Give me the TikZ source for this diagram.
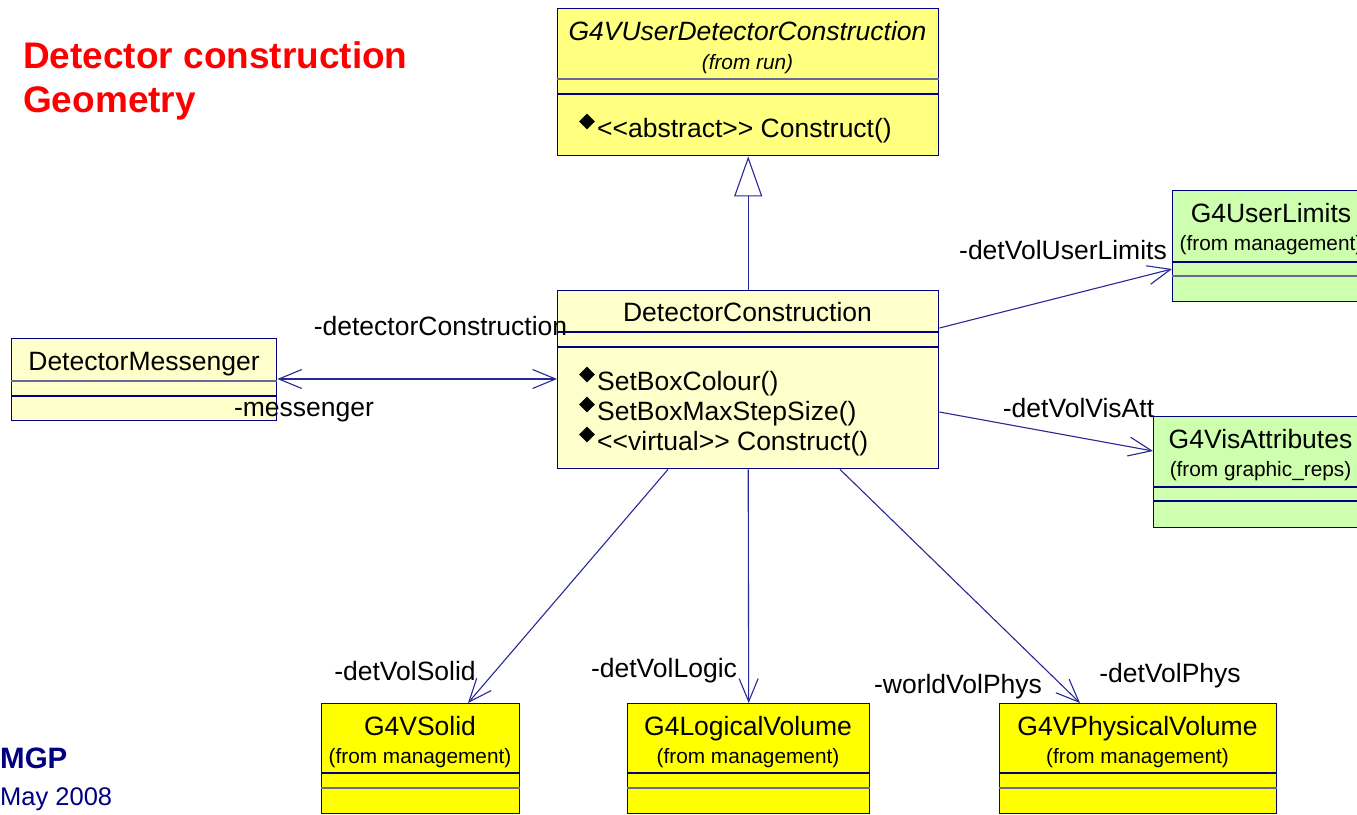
\documentclass[tikz,border=0pt]{standalone}
\usepackage{fontspec}
\newfontfamily\arial{Liberation Sans}
\usetikzlibrary{arrows.meta,shapes.geometric}
\definecolor{navy}{RGB}{0,0,128}
\definecolor{linec}{RGB}{40,40,150}
\definecolor{divgray}{RGB}{105,105,150}
\definecolor{ylight}{RGB}{255,255,204}
\definecolor{ymid}{RGB}{255,255,128}
\definecolor{ysat}{RGB}{255,255,0}
\definecolor{gfill}{RGB}{206,255,174}
\definecolor{titlered}{RGB}{255,0,0}
\newcommand\classdiv[5]{%
  \draw[draw=#3,divline] ([yshift=-#2pt]#1.north west) -- ([yshift=-#2pt]#1.north east);
  \draw[draw=#5,divline] ([yshift=-#4pt]#1.north west) -- ([yshift=-#4pt]#1.north east);}
\begin{document}
\begin{tikzpicture}[x=1pt,y=-1pt,
  cls/.style={draw=navy, line width=1.4pt, inner sep=0, anchor=north west},
  divline/.style={line width=1.2pt},
  lbl/.style={inner sep=0, anchor=base, font=\arial\fontsize{26.5}{30}\selectfont},
  smalllbl/.style={inner sep=0, anchor=base, font=\arial\fontsize{20.8}{24}\selectfont},
  meth/.style={lbl, anchor=base west},
  opmark/.style={diamond, fill=black, inner sep=0, minimum size=16pt},
  assoc/.style={draw=linec, line width=1.1pt, line join=miter, -{Straight Barb[length=23pt,width=19pt]}},
  biassoc/.style={draw=linec, line width=1.1pt, line join=miter, {Straight Barb[length=23pt,width=19pt]}-{Straight Barb[length=23pt,width=19pt]}},
  inherit/.style={draw=linec, line width=1.1pt, -{Triangle[open, length=40pt, width=28pt]}}
]
\useasboundingbox (0,0) rectangle (1357,814);
\clip (0,0) rectangle (1357,814);
\fill[white] (0,0) rectangle (1357,814);

% title
\node[inner sep=0, anchor=base west, text=titlered, font=\arial\bfseries\fontsize{37}{44}\selectfont] (t1) at (23,68) {Detector construction};
\node[inner sep=0, anchor=base west, text=titlered, font=\arial\bfseries\fontsize{37}{44}\selectfont] (t2) at (23,112) {Geometry};
\node[inner sep=0, anchor=base west, text=navy, font=\arial\bfseries\fontsize{29.5}{34}\selectfont] (mgp) at (0,768) {MGP};
\node[inner sep=0, anchor=base west, text=navy, font=\arial\fontsize{25.5}{30}\selectfont] (date) at (0,805) {May 2008};

% class boxes
\node[cls, fill=ymid, minimum width=381pt, minimum height=147pt] (uvdc) at (557,8) {};
\classdiv{uvdc}{71}{divgray}{86}{navy}
\node[lbl, font=\arial\itshape\fontsize{26.5}{30}\selectfont] (uvdcT) at (747.5,40.5) {G4VUserDetectorConstruction};
\node[smalllbl, font=\arial\itshape\fontsize{20.8}{24}\selectfont] (uvdcS) at (747.5,69.5) {(from run)};
\node[opmark] (uvdcD) at (587,121.5) {};
\node[meth] (uvdcM) at (597,137.5) {<\kern0pt<abstract>\kern0pt> Construct()};

\node[cls, fill=ylight, minimum width=381pt, minimum height=178pt] (dc) at (557,290) {};
\classdiv{dc}{42}{navy}{57}{navy}
\node[lbl] (dcT) at (747.5,321.5) {DetectorConstruction};
\node[opmark] (dcD1) at (587,374.5) {};
\node[meth] (dcM1) at (597,390.5) {SetBoxColour()};
\node[opmark] (dcD2) at (587,404.5) {};
\node[meth] (dcM2) at (597,420.5) {SetBoxMaxStepSize()};
\node[opmark] (dcD3) at (587,434.5) {};
\node[meth] (dcM3) at (597,450.5) {<\kern0pt<virtual>\kern0pt> Construct()};

\node[cls, fill=ylight, minimum width=265pt, minimum height=82pt] (msg) at (11,338) {};
\classdiv{msg}{43}{divgray}{58}{navy}
\node[lbl] (msgT) at (144,370.5) {DetectorMessenger};

\node[cls, fill=gfill, minimum width=198pt, minimum height=111pt] (ul) at (1172,190) {};
\classdiv{ul}{72}{navy}{86}{divgray}
\node[lbl] (ulT) at (1271,222.5) {G4UserLimits};
\node[smalllbl] (ulS) at (1271,250.5) {(from management)};

\node[cls, fill=gfill, minimum width=214pt, minimum height=111pt] (va) at (1153,416) {};
\classdiv{va}{71}{navy}{85}{navy}
\node[lbl] (vaT) at (1260.5,448.5) {G4VisAttributes};
\node[smalllbl] (vaS) at (1260.5,476.5) {(from graphic\char95 reps)};

\node[cls, fill=ysat, minimum width=198pt, minimum height=110pt] (solid) at (321,703) {};
\classdiv{solid}{70}{navy}{85}{divgray}
\node[lbl] (solidT) at (420,735.5) {G4VSolid};
\node[smalllbl] (solidS) at (420,763.5) {(from management)};

\node[cls, fill=ysat, minimum width=242pt, minimum height=110pt] (lv) at (627,703) {};
\classdiv{lv}{70}{navy}{85}{divgray}
\node[lbl] (lvT) at (748,735.5) {G4LogicalVolume};
\node[smalllbl] (lvS) at (748,763.5) {(from management)};

\node[cls, fill=ysat, minimum width=277pt, minimum height=110pt] (pv) at (999,703) {};
\classdiv{pv}{70}{navy}{85}{divgray}
\node[lbl] (pvT) at (1137.5,735.5) {G4VPhysicalVolume};
\node[smalllbl] (pvS) at (1137.5,763.5) {(from management)};

% connectors
\draw[inherit] (dc.north) -- (uvdc.south);
\draw[biassoc] ([yshift=-41pt]msg.north east) -- ([yshift=-89pt]dc.north west);
\draw[assoc] ([yshift=-38pt]dc.north east) -- ([yshift=-79pt]ul.north west);
\draw[assoc] ([yshift=-122pt]dc.north east) -- ([yshift=-35pt]va.north west);
\draw[assoc] ([xshift=111pt]dc.south west) -- ([xshift=147pt]solid.north west);
\draw[assoc] (dc.south) -- (lv.north);
\draw[assoc] ([xshift=283pt]dc.south west) -- ([xshift=81pt]pv.north west);

% role labels
\node[lbl] (rDC) at (440.5,335.5) {-detectorConstruction};
\node[lbl] (rMsg) at (304,416.5) {-messenger};
\node[lbl] (rUL) at (1063,259.5) {-detVolUserLimits};
\node[lbl] (rVA) at (1078.5,417) {-detVolVisAtt};
\node[lbl] (rSolid) at (405,680.5) {-detVolSolid};
\node[lbl] (rLogic) at (664,677.5) {-detVolLogic};
\node[lbl] (rWorld) at (958,693.5) {-worldVolPhys};
\node[lbl] (rPhys) at (1170,682.5) {-detVolPhys};
\end{tikzpicture}
\end{document}
